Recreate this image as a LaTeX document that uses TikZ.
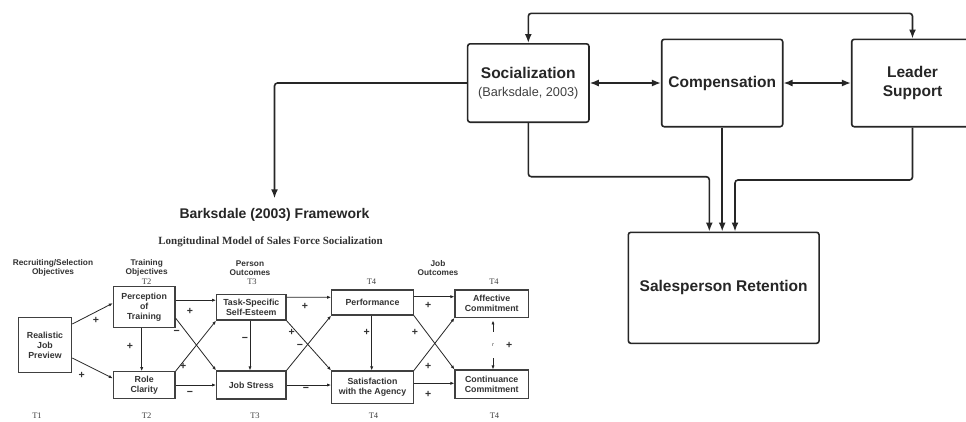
\documentclass[tikz,border=0pt]{standalone}
\usepackage{fontspec}
\setmainfont{Liberation Sans}
\newfontfamily\serifff{Liberation Serif}
\usetikzlibrary{arrows.meta,calc}
\begin{document}
\begin{tikzpicture}[x=1pt,y=-1pt,
  bigbox/.style={draw=black!85, line width=1.6pt, rounded corners=2.5pt, align=center, font=\fontsize{15.5}{18.5}\selectfont\bfseries, text=black!85, inner sep=0pt},
  bigarr/.style={draw=black!85, line width=1.6pt, rounded corners=3pt, -{Latex[length=9pt,width=7pt]}},
  bigdbl/.style={draw=black!85, line width=1.6pt, rounded corners=3pt, {Latex[length=9pt,width=7pt]}-{Latex[length=9pt,width=7pt]}},
  smbox/.style={draw=black!75, line width=1.2pt, align=center, font=\fontsize{8.8}{10}\selectfont\bfseries, text=black!80, inner sep=0pt},
  smarr/.style={draw=black!85, line width=0.8pt, -{Latex[length=4pt,width=3.2pt]}},
  hdr/.style={align=center, font=\fontsize{8.3}{9}\selectfont\bfseries, text=black!80, inner sep=0pt},
  tlab/.style={font=\serifff\fontsize{8.5}{9}\selectfont, text=black!75, inner sep=0pt},
  sgn/.style={font=\fontsize{10.5}{10.5}\selectfont\bfseries, text=black!80, inner sep=0pt},
]
\useasboundingbox (0,0) rectangle (966,421);
\fill[white] (0,0) rectangle (966,421);
\clip (0,0) rectangle (966,421);

% ---------- upper model ----------
\node[bigbox, minimum width=121.3pt, minimum height=78.4pt] (soc) at (528.3,83)
  {Socialization\\[-1pt]{\fontsize{12.7}{15}\selectfont\mdseries\color{black!75}(Barksdale, 2003)}};
\node[bigbox, minimum width=121pt, minimum height=87.4pt] (comp) at (722.2,83) {Compensation};
\node[bigbox, minimum width=121.6pt, minimum height=87.4pt] (lead) at (912.5,83) {Leader\\Support};
\node[bigbox, minimum width=190.7pt, minimum height=111pt] (ret) at (723.7,287.8) {Salesperson Retention};

\node[font=\fontsize{14}{16}\selectfont\bfseries, text=black!85, inner sep=0pt] (title) at (274.5,215) {Barksdale (2003) Framework};
\node[font=\serifff\fontsize{11}{12}\selectfont\bfseries, text=black!80, inner sep=0pt] (sub) at (270.5,241.7) {Longitudinal Model of Sales Force Socialization};

\coordinate (ytop) at (0,13.3);
\coordinate (ymidA) at (0,176.7);
\coordinate (ymidB) at (0,180);
\coordinate (r1) at ([xshift=-14.4pt]ret.north);
\coordinate (r3) at ([xshift=11.3pt]ret.north);

\draw[bigdbl] (soc.north) -- (soc.north |- ytop) -- (lead.north |- ytop) -- (lead.north);
\draw[bigdbl] (soc.east) -- (soc.east -| comp.west);
\draw[bigdbl] (comp.east) -- (comp.east -| lead.west);
\draw[bigarr, shorten >=10pt] (soc.west) -| (title.north);
\draw[bigarr] (soc.south) -- (soc.south |- ymidA) -- (r1 |- ymidA) -- (r1);
\draw[bigarr] (comp.south) -- (comp.south |- ret.north);
\draw[bigarr] (lead.south) -- (lead.south |- ymidB) -- (r3 |- ymidB) -- (r3);

% ---------- lower framework ----------
\node[hdr] (h1) at (53,268) {Recruiting/Selection\\Objectives};
\node[hdr] (h2) at (146.7,268) {Training\\Objectives};
\node[hdr] (h3) at (250,268) {Person\\Outcomes};
\node[hdr] (h4) at (438,268) {Job\\Outcomes};

\node[tlab] (t2a) at (146.7,282) {T2};
\node[tlab] (t3a) at (252,282) {T3};
\node[tlab] (t4a) at (371.5,282) {T4};
\node[tlab] (t4b) at (494,282) {T4};
\node[tlab] (t1b) at (37,416) {T1};
\node[tlab] (t2b) at (146.7,416) {T2};
\node[tlab] (t3b) at (255,416) {T3};
\node[tlab] (t4c) at (373.5,416) {T4};
\node[tlab] (t4d) at (494.5,416) {T4};

\node[smbox, minimum width=53.4pt, minimum height=55.4pt] (rjp) at (45,345) {Realistic\\Job\\Preview};
\node[smbox, minimum width=61.7pt, minimum height=41pt] (pot) at (144.2,307.2) {Perception\\of\\Training};
\node[smbox, minimum width=61.7pt, minimum height=26.6pt] (rc) at (144.2,385) {Role\\Clarity};
\node[smbox, minimum width=69.3pt, minimum height=25.7pt] (tse) at (251.3,307.2) {Task-Specific\\Self-Esteem};
\node[smbox, minimum width=69.3pt, minimum height=28pt] (js) at (251.3,385) {Job Stress};
\node[smbox, minimum width=81.6pt, minimum height=25pt] (perf) at (372.5,302.5) {Performance};
\node[smbox, minimum width=81.6pt, minimum height=32.3pt] (sat) at (372.5,387.2) {Satisfaction\\with the Agency};
\node[smbox, minimum width=73.3pt, minimum height=27.3pt] (ac) at (491.7,303.7) {Affective\\Commitment};
\node[smbox, minimum width=73.3pt, minimum height=28.3pt] (cc) at (491.7,384.2) {Continuance\\Commitment};
\node[font=\fontsize{5.5}{6}\selectfont\itshape, text=black!75, inner sep=0pt, minimum height=26pt] (rl) at (493,345) {r};

\draw[smarr] ([yshift=21pt]rjp.east) -- ([yshift=4pt]pot.west);
\draw[smarr] ([yshift=-13pt]rjp.east) -- ([yshift=6.7pt]rc.west);
\draw[smarr] ([xshift=-2.5pt]pot.south) -- ([xshift=-2.5pt]rc.north);
\draw[smarr] ([yshift=7pt]pot.east) -- ([yshift=7pt]tse.west);
\draw[smarr] ([yshift=-11pt]pot.east) -- (js.north west);
\draw[smarr] (rc.north east) -- (tse.south west);
\draw[smarr] (rc.east) -- (js.west);
\draw[smarr] ([xshift=-1.3pt]tse.south) -- ([xshift=-1.3pt]js.north);
\draw[smarr] ([yshift=10pt]tse.east) -- ([yshift=5.2pt]perf.west);
\draw[smarr] (tse.south east) -- (sat.north west);
\draw[smarr] (js.north east) -- (perf.south west);
\draw[smarr] (js.east) -- (js.east -| sat.west);
\draw[smarr] ([xshift=-0.8pt]perf.south) -- ([xshift=-0.8pt]sat.north);
\draw[smarr] ([yshift=5.8pt]perf.east) -- ([yshift=7pt]ac.west);
\draw[smarr] (perf.south east) -- (cc.north west);
\draw[smarr] (sat.north east) -- (ac.south west);
\draw[smarr] ([yshift=3.9pt]sat.east) -- ([yshift=0.9pt]cc.west);
\draw[smarr, shorten >=2.5pt] (rl.north) -- (rl.north |- ac.south);
\draw[smarr] (rl.south) -- (rl.south |- cc.north);

\node[sgn] (s1) at (96,320) {+};
\node[sgn] (s2) at (81.7,375) {+};
\node[sgn] (s3) at (130,346.7) {+};
\node[sgn] (s4) at (190,311.7) {+};
\node[sgn] (s5) at (176.7,332.7) {−};
\node[sgn] (s6) at (183.3,366.7) {+};
\node[sgn] (s7) at (190,393.3) {−};
\node[sgn] (s8) at (245,339.3) {−};
\node[sgn] (s9) at (305,306) {+};
\node[sgn] (s10) at (291.7,332.7) {+};
\node[sgn] (s11) at (300,346.7) {−};
\node[sgn] (s12) at (306,389) {−};
\node[sgn] (s13) at (366.7,332.7) {+};
\node[sgn] (s14) at (428.3,305) {+};
\node[sgn] (s15) at (415,332.7) {+};
\node[sgn] (s16) at (428.3,366.7) {+};
\node[sgn] (s17) at (428.3,394) {+};
\node[sgn] (s18) at (509.3,345) {+};
\end{tikzpicture}
\end{document}
